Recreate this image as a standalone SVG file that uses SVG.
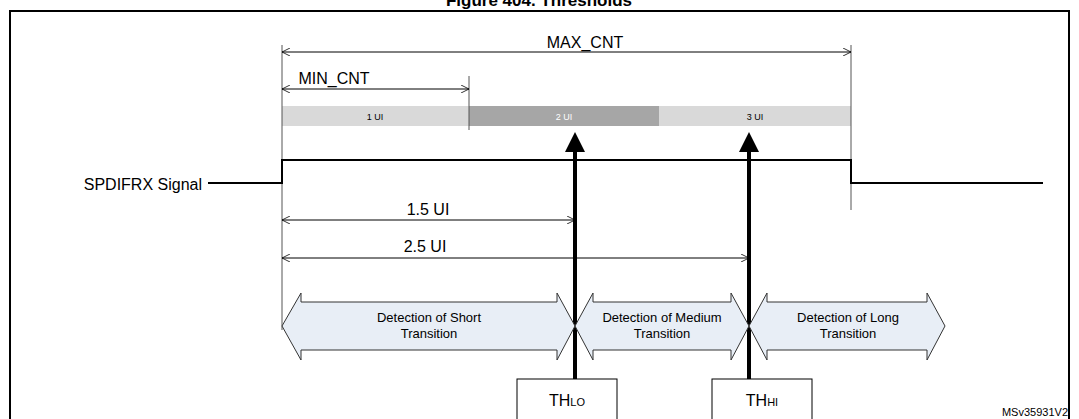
<svg xmlns="http://www.w3.org/2000/svg" width="1079" height="419" viewBox="0 0 1079 419">
<style>
text{font-family:"Liberation Sans",Arial,sans-serif;fill:#000}
.thin{stroke:#000;stroke-width:1;fill:none}
.grey{stroke:#555;stroke-width:1;fill:none}
.blk{fill:#e8eef6;stroke:#333;stroke-width:1}
.box{fill:#fff;stroke:#000;stroke-width:1}
</style>
<defs>
<marker id="oa" viewBox="0 0 10 10" refX="10" refY="5" markerWidth="8" markerHeight="8" orient="auto-start-reverse" markerUnits="userSpaceOnUse"><path d="M0,0 L10,5 L0,10" fill="none" stroke="#000" stroke-width="1"/></marker>
<marker id="sa" viewBox="0 0 10 10" refX="8" refY="5" markerWidth="5" markerHeight="6" orient="auto"><path d="M0,0 L10,5 L0,10z" fill="#000"/></marker>
</defs>
<rect width="1079" height="419" fill="#fff"/>
<text x="539" y="6" font-size="17" font-weight="bold" text-anchor="middle">Figure 404. Thresholds</text>
<path d="M10,420 V11 H1069 V420" fill="none" stroke="#000" stroke-width="2"/>
<g id="bars">
<rect x="282" y="106" width="187" height="20" fill="#d9d9d9"/>
<rect x="469" y="106" width="190" height="20" fill="#a6a6a6"/>
<rect x="659" y="106" width="192" height="20" fill="#d9d9d9"/>
<text x="375" y="120" font-size="9" text-anchor="middle">1 UI</text>
<text x="564" y="120" font-size="9" text-anchor="middle" style="fill:#fff">2 UI</text>
<text x="755" y="120" font-size="9" text-anchor="middle">3 UI</text>
</g>
<g id="guides">
<line class="grey" x1="282" y1="45" x2="282" y2="330"/>
<line class="grey" x1="851" y1="45" x2="851" y2="210"/>
<line class="grey" x1="469" y1="76" x2="469" y2="130"/>
</g>
<g id="signal">
<text x="202" y="190" font-size="16" text-anchor="end">SPDIFRX Signal</text>
<path d="M208,183 H282 V160 H851 V183 H1043" fill="none" stroke="#000" stroke-width="2"/>
</g>
<g id="connectors">
<line class="thin" x1="282" y1="52" x2="851" y2="52" marker-start="url(#oa)" marker-end="url(#oa)"/>
<line class="thin" x1="282" y1="89" x2="469" y2="89" marker-start="url(#oa)" marker-end="url(#oa)"/>
<line class="thin" x1="282" y1="220" x2="575" y2="220" marker-start="url(#oa)" marker-end="url(#oa)"/>
<line class="thin" x1="282" y1="258" x2="749" y2="258" marker-start="url(#oa)" marker-end="url(#oa)"/>
<line x1="575" y1="379" x2="575" y2="136" stroke="#000" stroke-width="4" marker-end="url(#sa)"/>
<line x1="749" y1="379" x2="749" y2="136" stroke="#000" stroke-width="4" marker-end="url(#sa)"/>
</g>
<g id="labels">
<text x="585" y="48" font-size="16" text-anchor="middle">MAX_CNT</text>
<text x="334" y="84" font-size="16" text-anchor="middle">MIN_CNT</text>
<text x="428" y="215" font-size="16" text-anchor="middle">1.5 UI</text>
<text x="425" y="252" font-size="16" text-anchor="middle">2.5 UI</text>
</g>
<g id="short">
<path class="blk" d="M282,326 L301,293 V302 H557 V293 L575,326 L557,360 V350 H301 V360 Z"/>
<text x="429" y="322" font-size="13" text-anchor="middle">Detection of Short</text>
<text x="429" y="338" font-size="13" text-anchor="middle">Transition</text>
</g>
<g id="medium">
<path class="blk" d="M575,326 L593,293 V302 H731 V293 L749,326 L731,360 V350 H593 V360 Z"/>
<text x="662" y="322" font-size="13" text-anchor="middle">Detection of Medium</text>
<text x="662" y="338" font-size="13" text-anchor="middle">Transition</text>
</g>
<g id="long">
<path class="blk" d="M749,326 L767,293 V302 H927 V293 L945,326 L927,360 V350 H767 V360 Z"/>
<text x="848" y="322" font-size="13" text-anchor="middle">Detection of Long</text>
<text x="848" y="338" font-size="13" text-anchor="middle">Transition</text>
</g>
<g id="thlo">
<rect class="box" x="517" y="379" width="100" height="41"/>
<text x="567" y="406" font-size="16" text-anchor="middle">TH<tspan font-size="11">LO</tspan></text>
</g>
<g id="thhi">
<rect class="box" x="712" y="379" width="100" height="41"/>
<text x="762" y="406" font-size="16" text-anchor="middle">TH<tspan font-size="11">HI</tspan></text>
</g>
<text x="1068" y="416" font-size="11" text-anchor="end">MSv35931V2</text>
</svg>
